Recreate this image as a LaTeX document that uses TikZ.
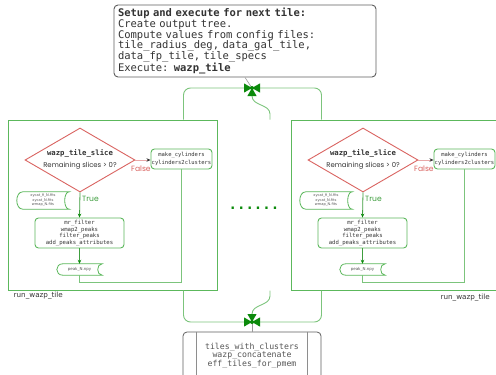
\documentclass[tikz,border=0pt]{standalone}
\usepackage{fontspec}
\setmonofont{DejaVu Sans Mono}
\setsansfont{DejaVu Sans}
\newfontfamily\geofont{Poppins}
\usetikzlibrary{arrows.meta,shapes.geometric,calc}

\definecolor{boxgreen}{HTML}{5CB85C}
\definecolor{linegreen}{HTML}{7CC47C}
\definecolor{darkgreen}{HTML}{0B8A0B}
\definecolor{labelgreen}{HTML}{3E9E3E}
\definecolor{decred}{HTML}{DA6461}
\definecolor{falsepink}{HTML}{E8A8A8}
\definecolor{txt}{HTML}{333333}
\definecolor{frame}{HTML}{5E5E5E}
\definecolor{softgray}{HTML}{555555}

\tikzset{
  topbox/.style={draw=frame, line width=0.9pt, rounded corners=4pt, fill=white,
    text=txt, align=left, inner xsep=4pt, inner ysep=0pt,
    font=\ttfamily\fontsize{10.5}{10.8}\selectfont},
  bigbox/.style={draw=boxgreen, line width=1pt, fill=white, inner sep=0pt},
  procbox/.style={draw=boxgreen, line width=0.9pt, rounded corners=3.5pt, fill=white,
    text=txt, align=center, inner sep=0.5pt},
  decision/.style={diamond, draw=decred, line width=0.9pt, fill=white, inner sep=0pt,
    minimum width=110pt, minimum height=64pt},
  dtext/.style={align=center, text=txt, inner sep=0pt},
  store/.style={align=center, text=softgray, inner sep=0pt,
    font=\sffamily\fontsize{3.6}{4.5}\selectfont},
  storeline/.style={draw=boxgreen, line width=0.8pt},
  truearrow/.style={draw=labelgreen, line width=0.8pt,
    -{Stealth[length=4pt,width=3.5pt,color=darkgreen]}},
  falsearrow/.style={draw=falsepink, line width=0.9pt,
    -{Stealth[length=4pt,width=3.5pt,color=txt]}},
  flowline/.style={draw=linegreen, line width=0.9pt},
  joinarrow/.style={draw=linegreen, line width=0.9pt, rounded corners=7pt,
    -{Triangle[length=8pt,width=9pt,color=darkgreen]}},
  link/.style={draw=softgray!60, line width=0.6pt},
  truelbl/.style={text=labelgreen, inner sep=0pt, font=\geofont\fontsize{7.6}{8}\selectfont},
  falselbl/.style={text=decred, inner sep=0pt, font=\geofont\fontsize{7.6}{8}\selectfont},
  tilelbl/.style={text=txt, inner sep=0pt, font=\sffamily\fontsize{7.2}{8}\selectfont},
  dots/.style={text=darkgreen, inner sep=0pt, font=\ttfamily\bfseries\fontsize{14}{15}\selectfont},
  endbox/.style={draw=frame, line width=0.8pt, rounded corners=4pt, fill=white,
    text=softgray, align=center, inner sep=0pt,
    font=\ttfamily\fontsize{8.2}{8}\selectfont}
}

\begin{document}
\begin{tikzpicture}[x=1pt,y=-1pt]
\useasboundingbox (0,0) rectangle (496,375);

% setup step
\node[topbox, minimum width=262pt, minimum height=72pt, text width=254pt] (setup) at (245,41)
  {\textbf{Setup and execute for next tile:}\\
   Create output tree.\\
   Compute values from config files:\\
   tile\_radius\_deg, data\_gal\_tile,\\
   data\_fp\_tile, tile\_specs\\
   Execute: \textbf{wazp\_tile}};

% one frame per tile
\node[bigbox, minimum width=209pt, minimum height=170pt] (L) at (112.5,205) {};
\node[bigbox, minimum width=216pt, minimum height=170pt] (R) at (399,205) {};
\node[tilelbl, anchor=west] (lbl1) at (13.5,296) {run\_wazp\_tile};
\node[tilelbl, anchor=east] (lbl2) at (490,297.5) {run\_wazp\_tile};

% elided tiles
\node[dots] (D) at (254,208) {......};

% concatenation step
\node[endbox, minimum width=138pt, minimum height=48pt] (B) at (252,356)
  {tiles\_with\_clusters\\wazp\_concatenate\\eff\_tiles\_for\_pmem};
\draw[frame!70, line width=0.7pt] ([xshift=14pt]B.north west) -- ([xshift=14pt]B.south west);
\draw[frame!70, line width=0.7pt] ([xshift=-14pt]B.north east) -- ([xshift=-14pt]B.south east);

% contents of each tile frame
\foreach \n/\dx in {1/0,2/283} {
  \node[decision] (dia\n) at (80+\dx,160) {};
  \node[dtext] (diat\n) at (80+\dx,159.5)
    {{\ttfamily\bfseries\fontsize{7.3}{10}\selectfont wazp\_tile\_slice}\\
     {\geofont\fontsize{6.9}{10}\selectfont Remaining slices > 0?}};
  \node[procbox, minimum width=61pt, minimum height=20pt,
        font=\ttfamily\fontsize{5.5}{8}\selectfont] (mk\n) at (181.5+\dx,159)
    {make\_cylinders\\cylinders2clusters};
  \node[procbox, minimum width=89pt, minimum height=30pt,
        font=\ttfamily\fontsize{5.6}{6.7}\selectfont] (mr\n) at (79.5+\dx,233)
    {mr\_filter\\wmap2\_peaks\\filter\_peaks\\add\_peaks\_attributes};
  \node[store, minimum width=52pt, minimum height=17pt] (xy\n) at (43+\dx,200.5)
    {xycat\_fi\_N.fits\\xycat\_N.fits\\wmap\_N.fits};
  \node[store, minimum width=45pt, minimum height=11pt,
        font=\sffamily\fontsize{4}{4.5}\selectfont] (pk\n) at (79.5+\dx,269.5)
    {peak\_N.npy};
  \foreach \s in {xy\n,pk\n} {
    \draw[storeline] ([xshift=6pt]\s.north west) -- (\s.north east)
      .. controls ([xshift=-6pt]\s.north east) and ([xshift=-6pt]\s.south east) .. (\s.south east)
      -- ([xshift=6pt]\s.south west)
      .. controls ([xshift=-2pt]\s.south west) and ([xshift=-2pt]\s.north west) .. cycle;
  }
  \draw[falsearrow] (dia\n.east) -- (dia\n.east -| mk\n.west);
  \node[falselbl] (f\n) at ($(dia\n.east)+(5.5,8.5)$) {False};
  \draw[truearrow] (dia\n.south) -- (mr\n.north);
  \node[truelbl] (t\n) at ($(dia\n.south)+(10.5,6)$) {True};
  \draw[truearrow] (mr\n.south) -- (pk\n.north);
  \draw[flowline] (pk\n.south) -- ++(0,7.5) -| (mk\n.south);
}

% junction above the tiles
\coordinate (J1) at (252,88);
\draw[link] (J1) -- (setup.south);
\draw[joinarrow] ($(L.north east)+(-34,0)$) |- (J1);
\draw[joinarrow] ($(R.north west)+(31,0)$) |- (J1);
\draw[joinarrow, rounded corners=0pt] ($(L.north east -| D)+(16,0)$) -- ($(J1)+(18,26)$)
  .. controls ($(J1)+(18,16)$) and ($(J1)+(0,18)$) .. ($(J1)+(0,8)$) -- (J1);
\fill[darkgreen] (J1) circle (2pt);

% junction below the tiles
\coordinate (J2) at (252,322);
\draw[link] (J2) -- (B.north);
\draw[joinarrow] ($(L.south east)+(-34,0)$) |- (J2);
\draw[joinarrow] ($(R.south west)+(31,0)$) |- (J2);
\draw[joinarrow, rounded corners=0pt] ($(L.south east -| D)+(16,0)$) -- ($(J2)+(18,-26)$)
  .. controls ($(J2)+(18,-16)$) and ($(J2)+(0,-18)$) .. ($(J2)+(0,-8)$) -- (J2);
\fill[darkgreen] (J2) circle (2pt);
\end{tikzpicture}
\end{document}
